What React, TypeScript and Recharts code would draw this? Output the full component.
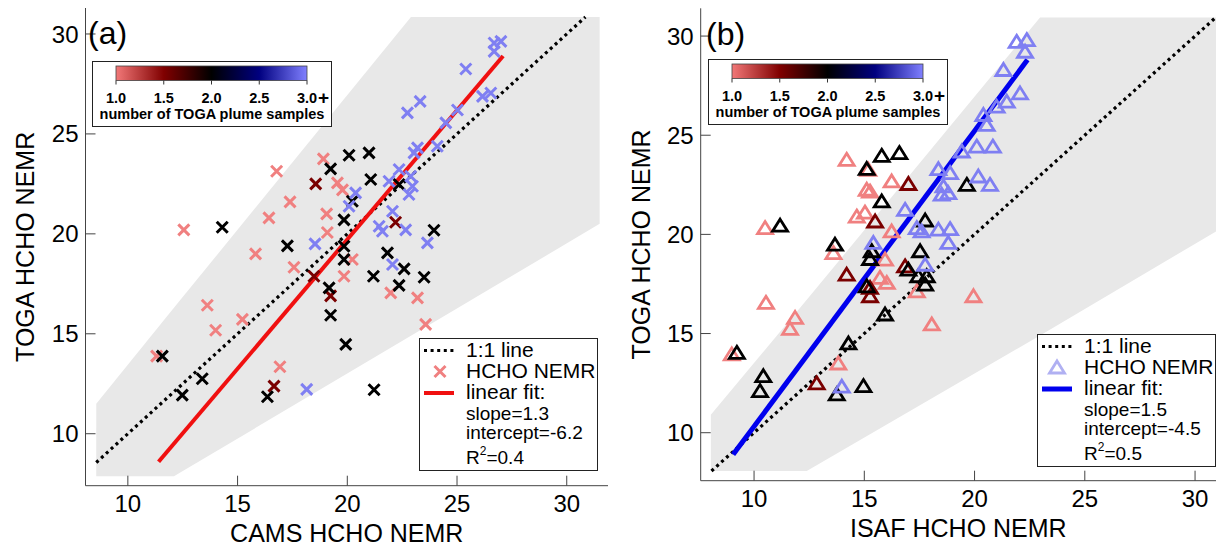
import React from "react";
import { ComposedChart, XAxis, YAxis, Area, Line, Scatter } from "recharts";

const X_TICKS = [10, 15, 20, 25, 30];
const Y_TICKS = [10, 15, 20, 25, 30];
const COLORBAR_TICKS = ["1.0", "1.5", "2.0", "2.5", "3.0"];

const PINK = "#f08080";
const DARKRED = "#7a0000";
const BLACK = "#000000";
const BLUE = "#7f7ff2";
const FONT = "'Liberation Sans', Arial, Helvetica, sans-serif";

// (a) CAMS vs TOGA, grouped by number of TOGA plume samples
const A_ONE = [
  { x: 16.78, y: 23.13 }, { x: 18.91, y: 23.75 }, { x: 19.55, y: 22.55 }, { x: 19.78, y: 22.2 },
  { x: 17.39, y: 21.6 }, { x: 16.43, y: 20.8 }, { x: 19.06, y: 21.0 }, { x: 19.09, y: 20.07 },
  { x: 12.55, y: 20.2 }, { x: 15.82, y: 19.0 }, { x: 17.57, y: 18.33 }, { x: 13.62, y: 16.43 },
  { x: 15.22, y: 15.72 }, { x: 14.0, y: 15.18 }, { x: 11.31, y: 13.88 }, { x: 16.93, y: 13.35 },
  { x: 20.23, y: 18.72 }, { x: 19.85, y: 17.88 }, { x: 21.98, y: 17.05 }, { x: 23.2, y: 16.8 },
  { x: 23.57, y: 15.47 },
];
const A_ONE_HALF = [
  { x: 18.56, y: 22.5 }, { x: 18.48, y: 17.88 }, { x: 19.24, y: 16.9 }, { x: 16.66, y: 12.38 },
  { x: 22.2, y: 20.58 },
];
const A_TWO = [
  { x: 19.24, y: 23.25 }, { x: 19.85, y: 20.7 }, { x: 14.3, y: 20.33 }, { x: 17.27, y: 19.4 },
  { x: 19.17, y: 17.3 }, { x: 19.24, y: 15.93 }, { x: 11.57, y: 13.88 }, { x: 13.39, y: 12.75 },
  { x: 12.48, y: 11.93 }, { x: 16.36, y: 11.85 }, { x: 20.08, y: 23.93 }, { x: 20.99, y: 24.05 },
  { x: 21.07, y: 22.72 }, { x: 20.23, y: 21.63 }, { x: 22.36, y: 22.47 }, { x: 23.95, y: 20.18 },
  { x: 19.85, y: 19.38 }, { x: 19.85, y: 18.72 }, { x: 21.83, y: 19.05 }, { x: 22.59, y: 18.25 },
  { x: 21.19, y: 17.88 }, { x: 22.36, y: 17.42 }, { x: 23.5, y: 17.83 }, { x: 19.93, y: 14.47 },
  { x: 21.22, y: 12.2 },
];
const A_THREE = [
  { x: 18.53, y: 19.5 }, { x: 18.15, y: 12.22 }, { x: 26.69, y: 29.55 }, { x: 27.0, y: 29.63 },
  { x: 26.69, y: 29.13 }, { x: 25.4, y: 28.25 }, { x: 23.32, y: 26.63 }, { x: 22.74, y: 26.05 },
  { x: 26.16, y: 26.88 }, { x: 26.54, y: 27.05 }, { x: 25.02, y: 26.2 }, { x: 24.49, y: 25.55 },
  { x: 23.2, y: 24.3 }, { x: 24.1, y: 24.38 }, { x: 23.04, y: 24.05 }, { x: 20.38, y: 22.05 },
  { x: 20.08, y: 21.38 }, { x: 22.36, y: 23.22 }, { x: 21.9, y: 22.63 }, { x: 22.89, y: 22.88 },
  { x: 22.97, y: 22.38 }, { x: 22.81, y: 21.97 }, { x: 22.06, y: 21.13 }, { x: 21.45, y: 20.38 },
  { x: 21.6, y: 20.13 }, { x: 22.66, y: 20.2 }, { x: 23.65, y: 19.55 }, { x: 22.06, y: 18.47 },
];
const A_BAND = [
  { x: 8.56, band: [7.87, 11.5] },
  { x: 12.1, band: [7.87, 16.3] },
  { x: 22.9, band: [14.9, 30.85] },
  { x: 31.5, band: [20.5, 30.85] },
];
const A_ONE_TO_ONE = [{ x: 8.56, y: 8.56 }, { x: 30.85, y: 30.85 }];
const A_FIT = [{ x: 11.4, y: 8.6 }, { x: 27.1, y: 28.9 }];

// (b) ISAF vs TOGA
const B_ONE = [
  { x: 14.2, y: 23.76 }, { x: 15.18, y: 23.26 }, { x: 10.5, y: 20.32 }, { x: 13.6, y: 19.06 },
  { x: 10.54, y: 16.55 }, { x: 11.86, y: 15.79 }, { x: 11.63, y: 15.24 }, { x: 8.99, y: 13.95 },
  { x: 13.82, y: 13.49 }, { x: 14.66, y: 20.9 }, { x: 15.03, y: 21.1 }, { x: 15.11, y: 22.25 },
  { x: 16.24, y: 22.67 }, { x: 15.26, y: 22.16 }, { x: 16.24, y: 20.15 }, { x: 15.94, y: 18.73 },
  { x: 15.71, y: 17.81 }, { x: 16.02, y: 17.55 }, { x: 17.38, y: 17.13 }, { x: 19.95, y: 16.88 },
  { x: 18.06, y: 15.46 },
];
const B_ONE_HALF = [
  { x: 14.2, y: 17.97 }, { x: 12.84, y: 12.49 }, { x: 17.0, y: 22.54 }, { x: 15.49, y: 20.65 },
  { x: 16.85, y: 18.39 }, { x: 15.26, y: 17.3 }, { x: 15.26, y: 16.88 },
];
const B_TWO = [
  { x: 15.11, y: 23.3 }, { x: 11.18, y: 20.44 }, { x: 13.67, y: 19.48 }, { x: 9.22, y: 14.03 },
  { x: 10.42, y: 12.85 }, { x: 10.27, y: 12.1 }, { x: 14.28, y: 14.5 }, { x: 13.75, y: 11.93 },
  { x: 14.96, y: 12.35 }, { x: 15.11, y: 17.38 }, { x: 15.79, y: 23.96 }, { x: 16.59, y: 24.1 },
  { x: 15.79, y: 21.66 }, { x: 17.76, y: 20.7 }, { x: 15.34, y: 19.15 }, { x: 15.26, y: 18.76 },
  { x: 17.53, y: 19.15 }, { x: 17.0, y: 18.22 }, { x: 17.45, y: 17.89 }, { x: 17.83, y: 17.89 },
  { x: 17.76, y: 17.47 }, { x: 15.94, y: 15.96 }, { x: 19.65, y: 22.5 },
];
const B_THREE = [
  { x: 13.98, y: 12.32 }, { x: 16.85, y: 21.24 }, { x: 17.38, y: 20.32 }, { x: 17.6, y: 20.15 },
  { x: 18.36, y: 20.24 }, { x: 18.89, y: 20.27 }, { x: 18.81, y: 19.57 }, { x: 15.41, y: 19.57 },
  { x: 17.76, y: 18.47 }, { x: 18.59, y: 22.42 }, { x: 18.89, y: 23.09 }, { x: 18.36, y: 23.29 },
  { x: 18.81, y: 22.08 }, { x: 18.51, y: 22.0 }, { x: 20.17, y: 22.92 }, { x: 20.7, y: 22.5 },
  { x: 19.42, y: 24.18 }, { x: 20.1, y: 24.43 }, { x: 20.83, y: 24.43 }, { x: 20.4, y: 26.02 },
  { x: 20.55, y: 25.52 }, { x: 21.0, y: 26.44 }, { x: 21.46, y: 26.69 }, { x: 22.06, y: 27.11 },
  { x: 21.31, y: 28.29 }, { x: 21.91, y: 29.71 }, { x: 22.37, y: 29.8 }, { x: 22.29, y: 29.21 },
];
const B_BAND = [
  { x: 8.04, band: [8.07, 10.9] },
  { x: 12.39, band: [8.07, 16.7] },
  { x: 22.97, band: [14.9, 30.94] },
  { x: 30.95, band: [20.15, 30.94] },
];
const B_ONE_TO_ONE = [{ x: 8.07, y: 8.07 }, { x: 30.94, y: 30.94 }];
const B_FIT = [{ x: 9.05, y: 8.9 }, { x: 22.4, y: 28.8 }];

const cross = (color: string) => (p: any) => {
  const { cx, cy } = p;
  const r = 5.5;
  return (
    <path
      d={`M${cx - r},${cy - r}L${cx + r},${cy + r}M${cx - r},${cy + r}L${cx + r},${cy - r}`}
      stroke={color}
      strokeWidth={3}
      fill="none"
    />
  );
};

const triangle = (color: string) => (p: any) => {
  const { cx, cy } = p;
  return (
    <path
      d={`M${cx},${cy - 6.5}L${cx + 7.5},${cy + 5.5}L${cx - 7.5},${cy + 5.5}Z`}
      stroke={color}
      strokeWidth={2.8}
      fill="none"
    />
  );
};

const noLabel = () => <g />;

function Panel({ xDomain, yDomain, margin, yAxisWidth, yLabelOffset, xLabel, band, oneToOne, fit, fitColor, fitWidth, groups, marker }: any) {
  const axisStroke = "#444";
  return (
    <ComposedChart width={610} height={548} margin={margin}>
      <XAxis
        type="number"
        dataKey="x"
        domain={xDomain}
        allowDataOverflow
        ticks={X_TICKS}
        tickSize={-10}
        tickMargin={19}
        height={40}
        stroke={axisStroke}
        tick={{ fill: "#000", fontSize: 24, fontFamily: FONT }}
        label={{ value: xLabel, position: "bottom", offset: -1, fill: "#000", fontSize: 25, fontFamily: FONT }}
      />
      <XAxis xAxisId="top" orientation="top" type="number" dataKey="x" domain={xDomain} allowDataOverflow ticks={X_TICKS} tickSize={-10} height={0} stroke={axisStroke} tick={noLabel} />
      <YAxis
        type="number"
        domain={yDomain}
        allowDataOverflow
        ticks={Y_TICKS}
        tickSize={-10}
        tickMargin={17}
        width={yAxisWidth}
        stroke={axisStroke}
        tick={{ fill: "#000", fontSize: 24, fontFamily: FONT }}
        label={{ value: "TOGA HCHO NEMR", angle: -90, position: "insideLeft", offset: yLabelOffset, fill: "#000", fontSize: 25, fontFamily: FONT, style: { textAnchor: "middle" } }}
      />
      <YAxis yAxisId="right" orientation="right" type="number" domain={yDomain} allowDataOverflow ticks={Y_TICKS} tickSize={-10} width={0} stroke={axisStroke} tick={noLabel} />
      <Area data={band} dataKey="band" type="linear" stroke="none" fill="#e8e8e8" fillOpacity={1} isAnimationActive={false} />
      <Line data={oneToOne} dataKey="y" type="linear" stroke="#000" strokeWidth={3.2} strokeDasharray="3 3.6" dot={false} activeDot={false} isAnimationActive={false} />
      {groups.map((g: any) => (
        <Scatter key={g.color} data={g.data} dataKey="y" shape={marker(g.color)} isAnimationActive={false} />
      ))}
      <Line data={fit} dataKey="y" type="linear" stroke={fitColor} strokeWidth={fitWidth} dot={false} activeDot={false} isAnimationActive={false} />
    </ComposedChart>
  );
}

function ColorBar({ left, top }: { left: number; top: number }) {
  const bx = 24, bw = 191, by = 5, bh = 14.5;
  return (
    <svg width={240} height={66} style={{ position: "absolute", left, top, fontFamily: FONT }}>
      <defs>
        <linearGradient id={`cb${left}`} x1="0" x2="1" y1="0" y2="0">
          <stop offset="0" stopColor="#f27878" />
          <stop offset="0.25" stopColor="#800000" />
          <stop offset="0.5" stopColor="#000000" />
          <stop offset="0.75" stopColor="#000080" />
          <stop offset="1" stopColor="#8080ff" />
        </linearGradient>
      </defs>
      <rect x={0.5} y={0.5} width={239} height={65} fill="#fff" stroke="#222" strokeWidth={1} />
      <rect x={bx} y={by} width={bw} height={bh} fill={`url(#cb${left})`} stroke="#444" strokeWidth={0.8} />
      {COLORBAR_TICKS.map((t, i) => {
        const tx = bx + (bw * i) / (COLORBAR_TICKS.length - 1);
        return (
          <g key={t}>
            <line x1={tx} x2={tx} y1={by + bh} y2={by + bh + 4} stroke="#333" strokeWidth={1} />
            <text x={tx} y={42} textAnchor="middle" fontSize={14.5} fontWeight="bold">{t}</text>
          </g>
        );
      })}
      <text x={bx + bw + 11} y={43} textAnchor="start" fontSize={19} fontWeight="bold">+</text>
      <text x={120} y={57.5} textAnchor="middle" fontSize={14.5} fontWeight="bold">number of TOGA plume samples</text>
    </svg>
  );
}

function FitLegend({ left, top, marker, fitColor, slope, intercept, r2 }: any) {
  return (
    <svg width={179} height={133} style={{ position: "absolute", left, top, fontFamily: FONT }}>
      <rect x={0.5} y={0.5} width={178} height={132} fill="#fff" stroke="#222" strokeWidth={1} />
      <line x1={5} x2={35} y1={12.5} y2={12.5} stroke="#000" strokeWidth={3.2} strokeDasharray="3 3.6" />
      <text x={47} y={19} fontSize={21}>1:1 line</text>
      {marker === "cross" ? (
        <path d="M15.5,28L26.5,39M15.5,39L26.5,28" stroke={PINK} strokeWidth={3} fill="none" />
      ) : (
        <path d="M20,27L27.5,39L12.5,39Z" stroke="#b0b0f2" strokeWidth={2.8} fill="none" />
      )}
      <text x={47} y={40} fontSize={21}>HCHO NEMR</text>
      <line x1={5} x2={35} y1={55} y2={55} stroke={fitColor} strokeWidth={marker === "cross" ? 4 : 5} />
      <text x={47} y={61} fontSize={21}>linear fit:</text>
      <text x={47} y={81.5} fontSize={19}>slope={slope}</text>
      <text x={47} y={100.5} fontSize={19}>intercept={intercept}</text>
      <text x={47} y={125.5} fontSize={19}>
        R<tspan dy={-9} fontSize={12}>2</tspan><tspan dy={9}>={r2}</tspan>
      </text>
    </svg>
  );
}

export default function App() {
  const groupsA = [
    { color: PINK, data: A_ONE },
    { color: DARKRED, data: A_ONE_HALF },
    { color: BLACK, data: A_TWO },
    { color: BLUE, data: A_THREE },
  ];
  const groupsB = [
    { color: PINK, data: B_ONE },
    { color: DARKRED, data: B_ONE_HALF },
    { color: BLACK, data: B_TWO },
    { color: BLUE, data: B_THREE },
  ];
  return (
    <div style={{ position: "absolute", left: 0, top: 0, width: 1220, height: 548, background: "#fff", fontFamily: FONT }}>
      <div style={{ position: "absolute", left: 0, top: 0, width: 610, height: 548 }}>
        <Panel
          xDomain={[8.07, 31.88]}
          yDomain={[7.4, 31.3]}
          margin={{ top: 8, right: 2, bottom: 22.3, left: 10 }}
          yAxisWidth={75.5}
          yLabelOffset={15}
          xLabel="CAMS HCHO NEMR"
          band={A_BAND}
          oneToOne={A_ONE_TO_ONE}
          fit={A_FIT}
          fitColor="#f01010"
          fitWidth={4}
          groups={groupsA}
          marker={cross}
        />
        <div style={{ position: "absolute", left: 88, top: 17, fontSize: 32, lineHeight: "32px" }}>(a)</div>
        <ColorBar left={92} top={61} />
        <FitLegend left={419} top={338} marker="cross" fitColor="#f01010" slope="1.3" intercept="-6.2" r2="0.4" />
      </div>
      <div style={{ position: "absolute", left: 610, top: 0, width: 610, height: 548 }}>
        <Panel
          xDomain={[7.58, 30.95]}
          yDomain={[7.58, 31.4]}
          margin={{ top: 8.3, right: 4, bottom: 27.3, left: 15 }}
          yAxisWidth={75.7}
          yLabelOffset={16}
          xLabel="ISAF HCHO NEMR"
          band={B_BAND}
          oneToOne={B_ONE_TO_ONE}
          fit={B_FIT}
          fitColor="#0000ee"
          fitWidth={5}
          groups={groupsB}
          marker={triangle}
        />
        <div style={{ position: "absolute", left: 96, top: 18, fontSize: 32, lineHeight: "32px" }}>(b)</div>
        <ColorBar left={98} top={59} />
        <FitLegend left={427} top={334} marker="triangle" fitColor="#0000ee" slope="1.5" intercept="-4.5" r2="0.5" />
      </div>
    </div>
  );
}
